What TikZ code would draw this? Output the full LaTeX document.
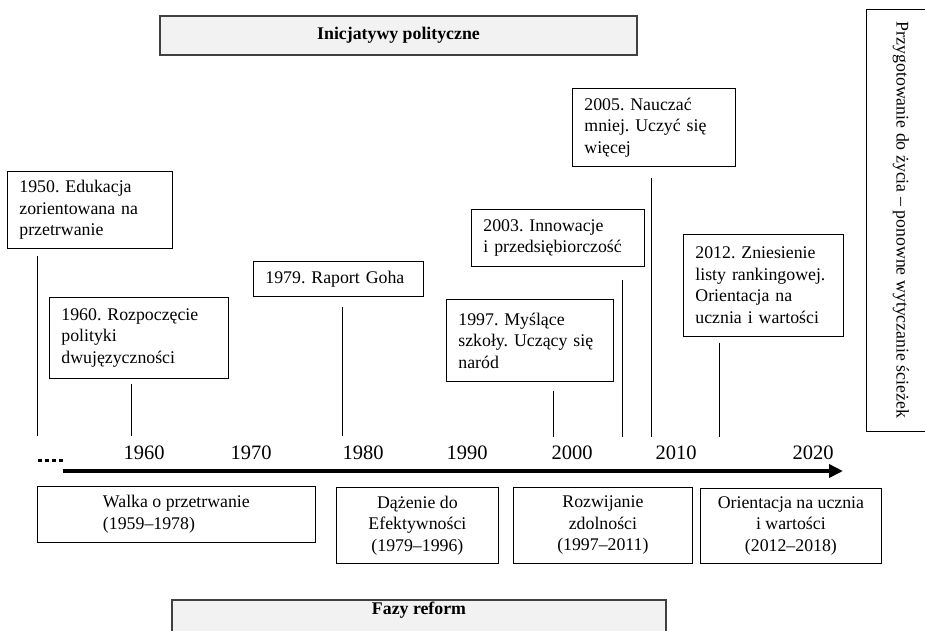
\documentclass[tikz,border=0pt]{standalone}
\usepackage{fontspec}
\setmainfont{Liberation Serif}
\usetikzlibrary{arrows.meta,calc}
\definecolor{BannerFill}{HTML}{F2F2F2}
\definecolor{BannerLine}{HTML}{404040}
\newcommand{\diagfont}{\fontsize{17.8}{21.5}\selectfont}
\frenchspacing

\tikzset{
  eventbox/.style={draw, line width=0.8pt, anchor=north west, align=left, inner xsep=12pt, inner ysep=0pt},
  phasebox/.style={draw, line width=0.8pt, anchor=north west, align=center, inner sep=0pt},
  banner/.style={draw=BannerLine, fill=BannerFill, line width=1.5pt, font=\diagfont\bfseries},
  yearlbl/.style={font=\fontsize{20.5}{24}\selectfont},
  tick/.style={line width=0.8pt}
}

\begin{document}
\begin{tikzpicture}[x=1pt,y=-1pt,font=\diagfont]
\useasboundingbox (0,0) rectangle (925,630);
\clip (0,0) rectangle (925,630);

% banners
\node[banner, minimum width=477pt, minimum height=39pt] (init) at (398.5,35.5) {Inicjatywy polityczne};
\node[banner, anchor=north, minimum width=494pt, inner ysep=3pt, text height=12pt, text depth=26pt] (fazy) at (419,599) {Fazy reform};
\node[draw, line width=0.8pt, rotate=-90, minimum width=422pt, minimum height=70pt] (life) at (901,220) {Przygotowanie do życia – ponowne wytyczanie ścieżek};

% initiatives
\node[eventbox, text width=141pt, minimum height=77pt] (b1950) at (7,171) {1950. Edukacja\\ zorientowana na\\ przetrwanie};
\node[eventbox, text width=155pt, minimum height=81pt] (b1960) at (49,297) {1960. Rozpoczęcie\\ polityki\\ dwujęzyczności};
\node[eventbox, text width=146pt, minimum height=35pt] (b1979) at (253,261) {1979. Raport Goha};
\node[eventbox, text width=143pt, minimum height=82pt] (b1997) at (446,299) {1997. Myślące\\ szkoły. Uczący się\\ naród};
\node[eventbox, text width=149pt, minimum height=57pt] (b2003) at (471,209) {2003. Innowacje\\ i przedsiębiorczość};
\node[eventbox, text width=139pt, minimum height=78pt] (b2005) at (572,88) {2005. Nauczać\\ mniej. Uczyć się\\ więcej};
\node[eventbox, text width=136pt, minimum height=102pt] (b2012) at (683,234) {2012. Zniesienie\\ listy rankingowej.\\ Orientacja na\\ ucznia i wartości};

% phases
\node[phasebox, align=left, minimum width=278pt, minimum height=56pt] (p1) at (37,486) {Walka o przetrwanie\\(1959–1978)};
\node[phasebox, minimum width=162pt, minimum height=76pt] (p2) at (336,487) {Dążenie do\\Efektywności\\(1979–1996)};
\node[phasebox, minimum width=179pt, minimum height=76pt] (p3) at (513,487) {Rozwijanie\\zdolności\\(1997–2011)};
\node[phasebox, minimum width=181pt, minimum height=75pt] (p4) at (700,488) {Orientacja na ucznia\\i wartości\\(2012–2018)};

% time axis
\coordinate (dotA) at (38,460);
\coordinate (dotB) at (63,460);
\draw[line width=3pt, dash pattern=on 4pt off 3pt] (dotA) -- (dotB);
\coordinate (ax0) at (63,471);
\coordinate (ax1) at (843,471);
\draw[line width=4pt, -{Triangle[length=14pt,width=13pt]}] (ax0) -- (ax1);

\foreach \yr/\xx in {1960/144,1970/251,1980/363,1990/467,2000/572,2010/676,2020/813}
  \node[yearlbl] (y\yr) at (\xx,453) {\yr};

% ticks
\coordinate (t1950) at (37,436);
\coordinate (t1960) at (131,436);
\coordinate (t1979) at (342,436);
\coordinate (t1997) at (553,437);
\coordinate (t2003) at (622,437);
\coordinate (t2005) at (651,437);
\coordinate (t2012) at (719,437);
\draw[tick] ($(b1950.south -| t1950)+(0,7)$) -- (t1950);
\draw[tick] ($(b1960.south -| t1960)+(0,5)$) -- (t1960);
\draw[tick] ($(b1979.south -| t1979)+(0,10)$) -- (t1979);
\draw[tick] ($(b1997.south -| t1997)+(0,9)$) -- (t1997);
\draw[tick] ($(b2003.south -| t2003)+(0,13)$) -- (t2003);
\draw[tick] ($(b2005.south -| t2005)+(0,11)$) -- (t2005);
\draw[tick] ($(b2012.south -| t2012)+(0,6)$) -- (t2012);
\end{tikzpicture}
\end{document}
